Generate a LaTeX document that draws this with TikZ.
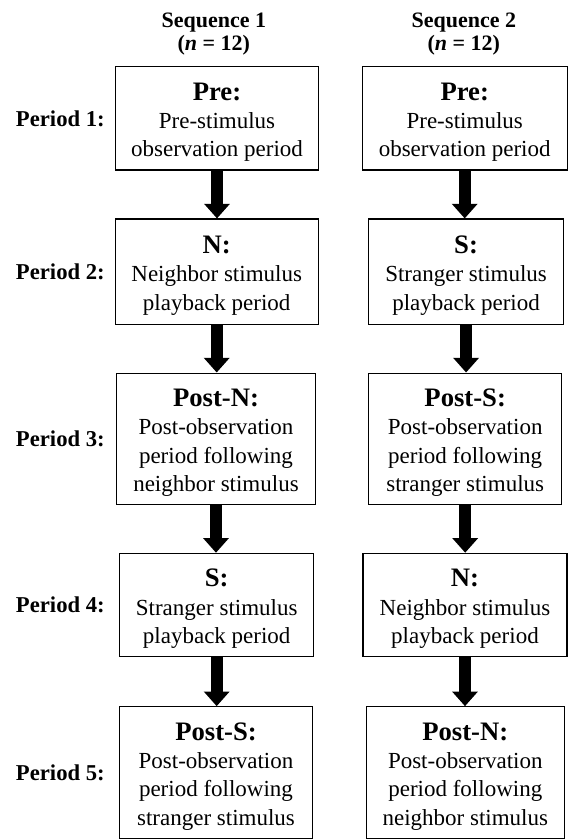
\documentclass[tikz,border=0pt]{standalone}
\usepackage{fontspec}
\setmainfont{Liberation Serif}
\usetikzlibrary{arrows.meta}

\newcommand\stagehead[1]{{\fontsize{20}{21.25}\selectfont\bfseries\rule{0pt}{19pt}#1}}

\tikzset{
  stage/.style={draw, line width=0.8pt, align=center, inner sep=0pt, font=\fontsize{17.25}{21.25}\selectfont},
  period/.style={anchor=east, inner sep=0pt, font=\fontsize{17}{20}\selectfont\bfseries},
  seqhead/.style={anchor=north, inner sep=0pt, align=center, font=\fontsize{16.5}{17.5}\selectfont\bfseries},
  flow/.style={line width=9.25pt, -{Triangle[width=18.75pt,length=11pt]}},
}

\begin{document}
\begin{tikzpicture}[x=0.75pt,y=-0.75pt]
    \useasboundingbox (0,0) rectangle (568,839);
    \node[seqhead] (seq1) at (213.8,12.5) {Sequence 1\\(\textit{n} = 12)};
    \node[seqhead] (seq2) at (463.8,12.5) {Sequence 2\\(\textit{n} = 12)};
    \coordinate (labx) at (105,0);

    % sequence 1
    \node[stage, minimum width=152.7pt, minimum height=77.5pt] (b1) at (217,118.3) {\stagehead{Pre:}\\Pre-stimulus\\observation period};
    \node[stage, minimum width=152.3pt, minimum height=78.8pt] (b2) at (216.7,271.5) {\stagehead{N:}\\Neighbor stimulus\\playback period};
    \node[stage, minimum width=148.9pt, minimum height=98.5pt] (b3) at (216,438.7) {\stagehead{Post-N:}\\Post-observation\\period following\\neighbor stimulus};
    \node[stage, minimum width=145.7pt, minimum height=77.6pt] (b4) at (216.7,605) {\stagehead{S:}\\Stranger stimulus\\playback period};
    \node[stage, minimum width=144.5pt, minimum height=98.7pt] (b5) at (216,772.5) {\stagehead{Post-S:}\\Post-observation\\period following\\stranger stimulus};

    % sequence 2
    \node[stage, minimum width=153.5pt, minimum height=77.5pt] (c1) at (464.7,118.3) {\stagehead{Pre:}\\Pre-stimulus\\observation period};
    \node[stage, minimum width=146pt, minimum height=78.8pt] (c2) at (466.1,271.5) {\stagehead{S:}\\Stranger stimulus\\playback period};
    \node[stage, minimum width=144.6pt, minimum height=98.5pt] (c3) at (465.2,438.7) {\stagehead{Post-S:}\\Post-observation\\period following\\stranger stimulus};
    \node[stage, minimum width=153pt, minimum height=77.6pt] (c4) at (465,605) {\stagehead{N:}\\Neighbor stimulus\\playback period};
    \node[stage, minimum width=148.9pt, minimum height=98.7pt] (c5) at (465.3,772.5) {\stagehead{Post-N:}\\Post-observation\\period following\\neighbor stimulus};

    \node[period] (p1) at (b1 -| labx) {Period 1:};
    \node[period] (p2) at (b2 -| labx) {Period 2:};
    \node[period] (p3) at (b3 -| labx) {Period 3:};
    \node[period] (p4) at (b4 -| labx) {Period 4:};
    \node[period] (p5) at (b5 -| labx) {Period 5:};

    \draw[flow] (b1.south) -- (b1.south |- b2.north);
    \draw[flow] (b2.south) -- (b2.south |- b3.north);
    \draw[flow] (b3.south) -- (b3.south |- b4.north);
    \draw[flow] (b4.south) -- (b4.south |- b5.north);
    \draw[flow] (c1.south) -- (c1.south |- c2.north);
    \draw[flow] (c2.south) -- (c2.south |- c3.north);
    \draw[flow] (c3.south) -- (c3.south |- c4.north);
    \draw[flow] (c4.south) -- (c4.south |- c5.north);
\end{tikzpicture}
\end{document}
